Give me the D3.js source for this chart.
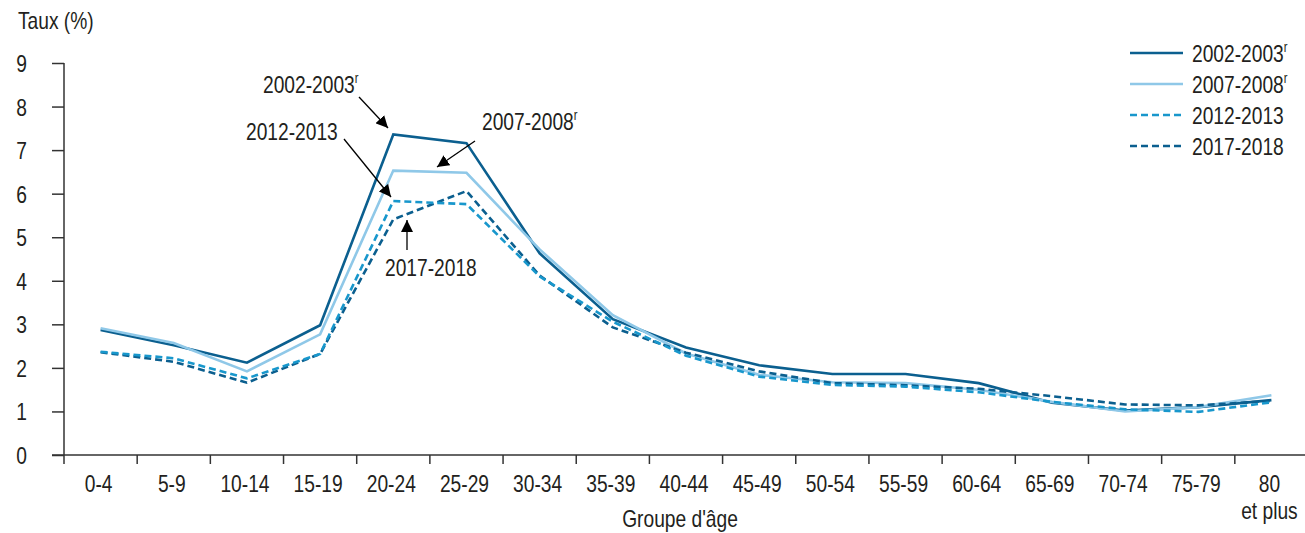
<!DOCTYPE html>
<html>
<head>
<meta charset="utf-8">
<script src="https://cdn.jsdelivr.net/npm/d3@7"></script>
<style>
  html, body { margin: 0; padding: 0; background: #fff; }
  svg { display: block; }
  text { font-family: "Liberation Sans", Arial, sans-serif; fill: #231f20; }
</style>
</head>
<body>
<svg id="chart" width="1305" height="533"></svg>
<script>
// ---- Data ----
const categories = ["0-4","5-9","10-14","15-19","20-24","25-29","30-34","35-39","40-44","45-49","50-54","55-59","60-64","65-69","70-74","75-79","80\net plus"];
const yTicks = [0,1,2,3,4,5,6,7,8,9];
const seriesNames = ["2002-2003", "2007-2008", "2012-2013", "2017-2018"];
const seriesSup = ["r", "r", "", ""];
const s2002 = [2.87, 2.52, 2.12, 2.98, 7.36, 7.16, 4.63, 3.12, 2.47, 2.06, 1.86, 1.86, 1.65, 1.20, 1.02, 1.10, 1.26];
const s2007 = [2.91, 2.57, 1.92, 2.77, 6.53, 6.48, 4.72, 3.21, 2.33, 1.84, 1.67, 1.65, 1.50, 1.22, 1.00, 1.10, 1.37];
const s2012 = [2.37, 2.22, 1.76, 2.32, 5.83, 5.76, 4.10, 3.06, 2.28, 1.80, 1.61, 1.57, 1.44, 1.22, 1.05, 0.99, 1.21];
const s2017 = [2.36, 2.14, 1.66, 2.32, 5.41, 6.06, 4.12, 2.93, 2.35, 1.92, 1.65, 1.60, 1.52, 1.35, 1.16, 1.14, 1.24];
const seriesValues = [s2002, s2007, s2012, s2017];
const seriesColors = ["#0b5f8f", "#8fc8e8", "#1897cc", "#0b5f8f"];
const seriesDash = [null, null, "7,4", "7,4"];

const FS = 24, SX = 0.8;
const svg = d3.select("#chart");
const x = d3.scaleBand().domain(categories).range([64, 1308]);
const y = d3.scaleLinear().domain([0, 9]).range([455, 63]);
const axisColor = "#333";

// condensed text helper
function txt(parent, tx, ty, s, anchor, sup) {
  const t = parent.append("text")
    .attr("transform", `translate(${tx},${ty}) scale(${SX},1)`)
    .attr("text-anchor", anchor || "start")
    .attr("font-size", FS).text(s);
  if (sup) t.append("tspan").attr("font-size", 14).attr("dy", -10).text(sup);
  return t;
}

// Y axis
const yAxis = svg.append("g").attr("transform", "translate(64,0)")
  .call(d3.axisLeft(y).tickValues(yTicks).tickSize(12).tickFormat(d3.format("d")));
yAxis.select(".domain").remove();
yAxis.selectAll(".tick line").attr("stroke", axisColor).attr("stroke-width", 1.5);
yAxis.selectAll(".tick text")
  .attr("x", null).attr("dy", null)
  .attr("transform", `translate(-37,8.5) scale(${SX},1)`)
  .attr("font-size", FS).style("font-family", null).attr("fill", "#231f20")
  .attr("text-anchor", "end");
yAxis.attr("font-family", null);
svg.append("line").attr("x1", 64).attr("x2", 64).attr("y1", y(9)).attr("y2", 464)
  .attr("stroke", axisColor).attr("stroke-width", 1.5);

// X axis
svg.append("line").attr("x1", 52).attr("x2", 1305).attr("y1", y(0)).attr("y2", y(0))
  .attr("stroke", axisColor).attr("stroke-width", 1.5);
svg.append("g").selectAll("line").data(categories.slice(1)).join("line")
  .attr("x1", d => x(d)).attr("x2", d => x(d)).attr("y1", y(0)).attr("y2", 464)
  .attr("stroke", axisColor).attr("stroke-width", 1.5);
const xg = svg.append("g");
categories.forEach(d => {
  const cx = x(d) + x.bandwidth() / 2 - 2;
  const t = xg.append("text")
    .attr("transform", `translate(${cx},492) scale(${SX},1)`)
    .attr("text-anchor", "middle").attr("font-size", FS);
  d.split("\n").forEach((p, i) => {
    t.append("tspan").attr("x", 0).attr("dy", i === 0 ? 0 : 27).text(p);
  });
});

// Axis titles
txt(svg, 18, 29, "Taux (%)", "start");
txt(svg, 680, 527, "Groupe d'âge", "middle");

// Lines
const line = d3.line().x((d, i) => x(categories[i]) + x.bandwidth() / 2).y(d => y(d));
const order = [0, 1, 3, 2];
order.forEach(k => {
  svg.append("path").datum(seriesValues[k]).attr("d", line)
    .attr("fill", "none").attr("stroke", seriesColors[k]).attr("stroke-width", 2.6)
    .attr("stroke-dasharray", seriesDash[k]).attr("stroke-linejoin", "miter");
});

// Legend
const lg = svg.append("g");
seriesNames.forEach((name, i) => {
  const yy = 53 + i * 31;
  lg.append("line").attr("x1", 1130).attr("x2", 1183).attr("y1", yy).attr("y2", yy)
    .attr("stroke", seriesColors[i]).attr("stroke-width", 2.6).attr("stroke-dasharray", seriesDash[i]);
  txt(lg, 1192, yy + 9, name, "start", seriesSup[i]);
});

// Annotations
const defs = svg.append("defs");
defs.append("marker").attr("id", "ah").attr("viewBox", "0 0 10 10").attr("refX", 10).attr("refY", 5)
  .attr("markerWidth", 12).attr("markerHeight", 12).attr("markerUnits", "userSpaceOnUse").attr("orient", "auto")
  .append("path").attr("d", "M0,0 L10,5 L0,10 z").attr("fill", "#000");
function annot(label, sup, tx, ty, x1, y1, x2, y2) {
  txt(svg, tx, ty, label, "start", sup);
  svg.append("line").attr("x1", x1).attr("y1", y1).attr("x2", x2).attr("y2", y2)
    .attr("stroke", "#000").attr("stroke-width", 1.3).attr("marker-end", "url(#ah)");
}
annot("2002-2003", "r", 263, 93, 359, 97, 388, 128);
annot("2012-2013", "", 246, 140, 344, 139, 391, 197);
annot("2007-2008", "r", 482, 130, 475, 141, 437, 167);
annot("2017-2018", "", 385, 276, 407, 250, 407, 220);
</script>
</body>
</html>
